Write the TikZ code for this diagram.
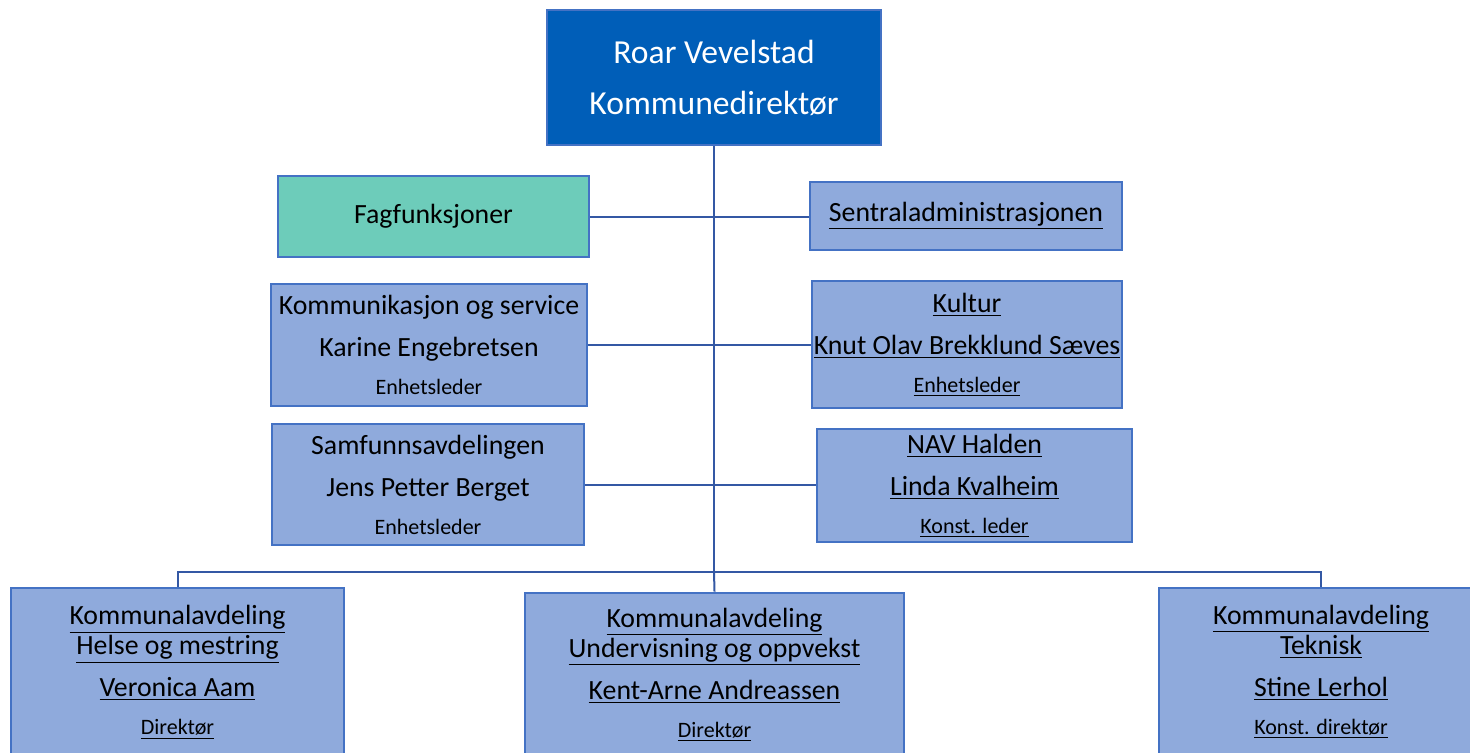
\documentclass[tikz,border=0pt]{standalone}
\usepackage{fontspec}
\setmainfont{Carlito}
\usepackage{xcolor}
\usetikzlibrary{positioning}
\definecolor{topblue}{RGB}{0,94,184}
\definecolor{boxblue}{RGB}{143,170,220}
\definecolor{edgeblue}{RGB}{68,114,196}
\definecolor{linkblue}{RGB}{52,88,164}
\definecolor{fagteal}{RGB}{109,204,186}
\newcommand{\ul}[1]{\underline{#1}}
\newcommand{\tittel}{\fontsize{11}{15}\selectfont}
\tikzset{
  unit/.style={draw=edgeblue, line width=1.3pt, fill=boxblue, align=center,
    inner sep=0pt, font=\fontsize{13.9}{15}\selectfont},
  link/.style={draw=linkblue, line width=1pt},
}
\begin{document}
\begin{tikzpicture}[x=0.5pt,y=-0.5pt]
\clip (0,0) rectangle (1470,752);
\fill[white] (0,0) rectangle (1470,752);
\node[unit, fill=topblue, text=white, minimum width=167pt, minimum height=67.5pt,
  font=\fontsize{16.8}{18}\selectfont] (dir) at (714,77.5) {Roar Vevelstad\\[7.5pt]Kommunedirektør};
\node[unit, fill=fagteal, minimum width=155.5pt, minimum height=40.5pt] (fag) at (433.5,216.5) {Fagfunksjoner};
\node[unit, minimum width=156pt, minimum height=34pt] (sentral) at (966,216) {\ul{Sentraladministrasjonen}};
\node[unit, minimum width=158pt, minimum height=61pt] (komm) at (429,345)
  {Kommunikasjon og service\\[6pt]Karine Engebretsen\\[4pt]{\tittel Enhetsleder}};
\node[unit, minimum width=155pt, minimum height=63.5pt] (kultur) at (967,344.5)
  {\ul{Kultur}\\[6pt]\ul{Knut Olav Brekklund Sæves}\\[4pt]{\tittel\ul{Enhetsleder}}};
\node[unit, minimum width=156pt, minimum height=60.5pt] (samf) at (428,484.5)
  {Samfunnsavdelingen\\[6pt]Jens Petter Berget\\[4pt]{\tittel Enhetsleder}};
\node[unit, minimum width=157.5pt, minimum height=56.5pt] (nav) at (974.5,485.5)
  {\ul{NAV Halden}\\[6pt]\ul{Linda Kvalheim}\\[4pt]{\tittel\ul{Konst. leder}}};
\node[unit, minimum width=166.5pt, minimum height=84.5pt] (helse) at (177.5,672.5)
  {\ul{Kommunalavdeling}\\\ul{Helse og mestring}\\[6pt]\ul{Veronica Aam}\\[4pt]{\tittel\ul{Direktør}}};
\node[unit, minimum width=189.5pt, minimum height=82pt] (underv) at (714.5,675)
  {\ul{Kommunalavdeling}\\\ul{Undervisning og oppvekst}\\[6pt]\ul{Kent-Arne Andreassen}\\[4pt]{\tittel\ul{Direktør}}};
\node[unit, minimum width=162pt, minimum height=84pt] (tekn) at (1321,672)
  {\ul{Kommunalavdeling}\\\ul{Teknisk}\\[6pt]\ul{Stine Lerhol}\\[4pt]{\tittel\ul{Konst. direktør}}};
\coordinate (split) at (714,572);
\draw[link] (dir.south) -- (split);
\draw[link] (fag.east) -- (fag.east -| sentral.west);
\draw[link] (komm.east) -- (komm.east -| kultur.west);
\draw[link] (samf.east) -- (samf.east -| nav.west);
\draw[link] (helse.north) |- (split) -| (tekn.north);
\draw[link] (split) -- (underv.north);
\end{tikzpicture}
\end{document}
